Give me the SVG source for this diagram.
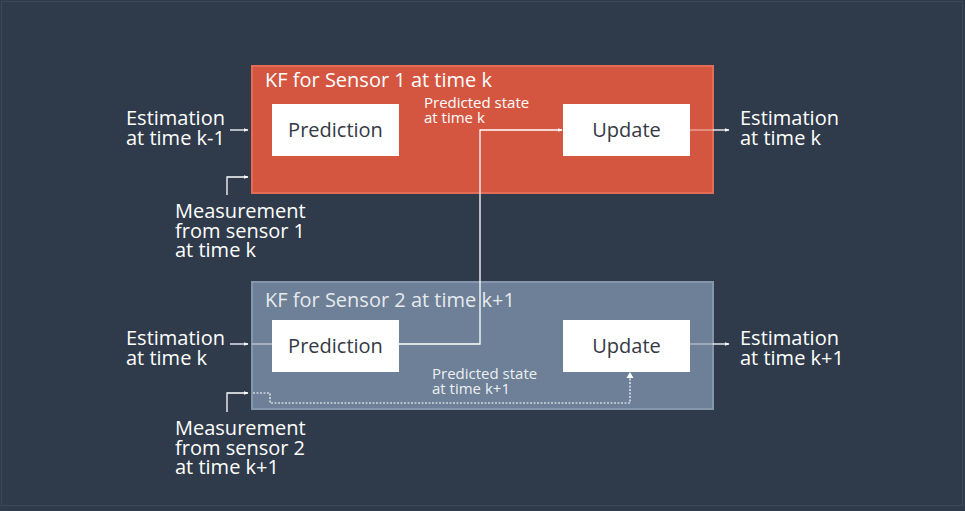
<svg xmlns="http://www.w3.org/2000/svg" width="965" height="511" viewBox="0 0 965 511">
<defs>
<marker id="ah" viewBox="0 0 10 10" refX="9" refY="5" markerWidth="5" markerHeight="5" orient="auto" markerUnits="userSpaceOnUse">
<path d="M0,1 L10,5 L0,9 z" fill="#ffffff"/>
</marker>
<style>
.t{font-family:"Open Sans","Noto Sans","Liberation Sans",sans-serif;fill:#ffffff}
.lbl{font-size:20px}
.sm{font-size:15px}
.box{font-family:"Open Sans","Noto Sans","Liberation Sans",sans-serif;font-size:20px;fill:#333a44;text-anchor:middle}
.wire{fill:none;stroke:#ffffff;stroke-width:1.3}
.dot{fill:none;stroke:#ffffff;stroke-width:1.2;stroke-dasharray:2 1.5}
</style>
</defs>
<rect x="0" y="0" width="965" height="511" fill="#2f3b4a"/>
<rect x="1.5" y="1.5" width="961" height="504" fill="none" stroke="#3c4857" stroke-width="1"/>

<g id="kf1">
<rect x="252" y="66" width="461" height="127" fill="#d45641" stroke="#e46c55" stroke-width="2"/>
<text class="t lbl" x="265" y="87">KF for Sensor 1 at time k</text>
</g>
<g id="kf2">
<rect x="252" y="282" width="461" height="127" fill="#6d8097" stroke="#8396ac" stroke-width="2"/>
<text class="t lbl" x="265" y="307" fill-opacity="0.85">KF for Sensor 2 at time k+1</text>
</g>

<g id="pred1"><rect x="272" y="104" width="127" height="52" fill="#ffffff"/><text class="box" x="335.5" y="137">Prediction</text></g>
<g id="upd1"><rect x="563" y="104" width="127" height="52" fill="#ffffff"/><text class="box" x="626.5" y="137">Update</text></g>
<g id="pred2"><rect x="272" y="320" width="127" height="52" fill="#ffffff"/><text class="box" x="335.5" y="353">Prediction</text></g>
<g id="upd2"><rect x="563" y="320" width="127" height="52" fill="#ffffff"/><text class="box" x="626.5" y="353">Update</text></g>

<g id="labels">
<text class="t lbl" x="126" y="125">Estimation<tspan x="126" dy="20">at time k-1</tspan></text>
<text class="t lbl" x="175" y="218">Measurement<tspan x="175" dy="19.5">from sensor 1</tspan><tspan x="175" dy="19.5">at time k</tspan></text>
<text class="t sm" x="424" y="108">Predicted state<tspan x="424" dy="15">at time k</tspan></text>
<text class="t lbl" x="740" y="125">Estimation<tspan x="740" dy="20">at time k</tspan></text>
<text class="t lbl" x="126" y="345">Estimation<tspan x="126" dy="20">at time k</tspan></text>
<text class="t lbl" x="175" y="435">Measurement<tspan x="175" dy="19.5">from sensor 2</tspan><tspan x="175" dy="19.5">at time k+1</tspan></text>
<text class="t sm" x="432" y="379" fill-opacity="0.9">Predicted state<tspan x="432" dy="15">at time k+1</tspan></text>
<text class="t lbl" x="740" y="345">Estimation<tspan x="740" dy="20">at time k+1</tspan></text>
</g>

<g id="connectors">
<path class="wire" d="M230,130 H248" marker-end="url(#ah)"/>
<path class="wire" d="M227,195 V177 H248" marker-end="url(#ah)"/>
<path class="wire" d="M690,130 H713" stroke-opacity="0.5"/>
<path class="wire" d="M713,130 H729" marker-end="url(#ah)"/>
<path class="wire" d="M399,344 H480 V130 H562" marker-end="url(#ah)"/>
<path class="wire" d="M230,344 H248" marker-end="url(#ah)"/>
<path class="wire" d="M252,344 H272" stroke-opacity="0.6"/>
<path class="wire" d="M227,412 V393 H248" marker-end="url(#ah)"/>
<path class="dot" d="M253,393 H270 V403 H630 V377"/>
<path d="M626.5,378 L630,372 L633.5,378 z" fill="#ffffff"/>
<path class="wire" d="M690,344 H713" stroke-opacity="0.5"/>
<path class="wire" d="M713,344 H729" marker-end="url(#ah)"/>
</g>
</svg>
